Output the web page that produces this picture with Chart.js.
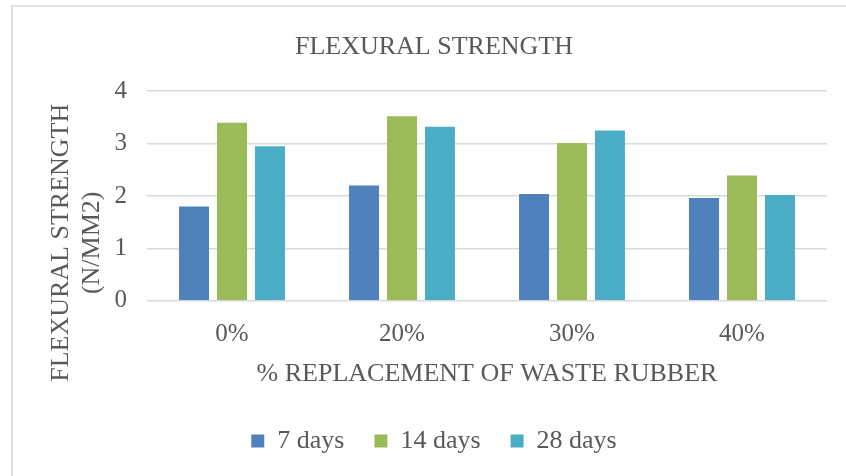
<!DOCTYPE html>
<html>
<head>
<meta charset="utf-8">
<script src="https://cdn.jsdelivr.net/npm/chart.js@4"></script>
<style>
  body { margin: 0; background: #fff; }
  #wrap { width: 846px; height: 476px; }
</style>
</head>
<body>
<div id="wrap"><canvas id="flex-chart" width="846" height="476"></canvas></div>
<script>
// values
const categories = ['0%', '20%', '30%', '40%'];
const days7 = [1.80, 2.20, 2.04, 1.96];
const days14 = [3.40, 3.52, 3.01, 2.39];
const days28 = [2.95, 3.32, 3.25, 2.02];
const seriesNames = ['7 days', '14 days', '28 days'];
const yTicks = [0, 1, 2, 3, 4];

const textColor = '#595959';
const fontName = "'Liberation Serif', 'Times New Roman', serif";

// frame around the chart + the two line y axis title
const extras = {
    id: 'extras',
    beforeDraw(chart) {
        const ctx = chart.ctx;
        ctx.save();
        ctx.fillStyle = '#fff';
        ctx.fillRect(0, 0, chart.width, chart.height);
        ctx.strokeStyle = '#d9d9d9';
        ctx.lineWidth = 1.5;
        ctx.strokeRect(12, 6, 900, 600);
        ctx.restore();
    },
    afterDraw(chart) {
        const ctx = chart.ctx;
        const area = chart.chartArea;
        ctx.save();
        ctx.fillStyle = textColor;
        ctx.font = '26px ' + fontName;
        ctx.textAlign = 'center';
        ctx.textBaseline = 'middle';
        ctx.translate(area.left - 86, area.bottom - 58);
        ctx.rotate(-Math.PI / 2);
        ctx.fillText('FLEXURAL STRENGTH', 0, 0);
        ctx.fillText('(N/MM2)', 0, 31);
        ctx.restore();
    }
};

new Chart(document.getElementById('flex-chart'), {
    type: 'bar',
    data: {
        labels: categories,
        datasets: [
            { label: seriesNames[0], data: days7, backgroundColor: '#4F81BD' },
            { label: seriesNames[1], data: days14, backgroundColor: '#9BBB59' },
            { label: seriesNames[2], data: days28, backgroundColor: '#4BACC6' }
        ]
    },
    options: {
        responsive: false,
        animation: false,
        devicePixelRatio: 1,
        layout: { padding: { left: 41, right: 19, top: 0, bottom: 12 } },
        datasets: {
            bar: { categoryPercentage: 0.67, barPercentage: 0.79 }
        },
        plugins: {
            title: {
                display: true,
                text: 'FLEXURAL STRENGTH',
                color: textColor,
                font: { family: fontName, size: 26, weight: 'normal' },
                padding: { top: 32, bottom: 28 }
            },
            legend: {
                position: 'bottom',
                labels: {
                    color: textColor,
                    font: { family: fontName, size: 26 },
                    boxWidth: 13,
                    boxHeight: 13,
                    padding: 30
                }
            },
            tooltip: { enabled: false }
        },
        scales: {
            x: {
                grid: { display: false },
                border: { display: false },
                ticks: {
                    color: textColor,
                    font: { family: fontName, size: 25 },
                    padding: 11
                },
                title: {
                    display: true,
                    text: '% REPLACEMENT OF WASTE RUBBER',
                    color: textColor,
                    font: { family: fontName, size: 26 },
                    padding: { top: -2, bottom: 8 }
                }
            },
            y: {
                min: yTicks[0],
                max: yTicks[yTicks.length - 1],
                afterFit(scale) { scale.width = 106; },
                grid: { color: '#d9d9d9', lineWidth: 1.5, drawTicks: false },
                border: { display: false },
                ticks: {
                    stepSize: 1,
                    color: textColor,
                    font: { family: fontName, size: 25 },
                    padding: 20
                }
            }
        }
    },
    plugins: [extras]
});
</script>
</body>
</html>
